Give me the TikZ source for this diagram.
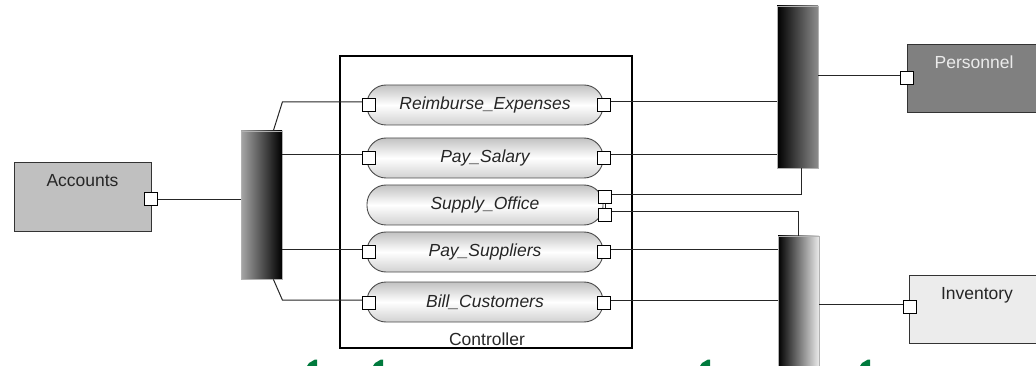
\documentclass[tikz,border=0pt]{standalone}
\usepackage{fontspec}
\setmainfont{Liberation Sans}
\definecolor{mk}{RGB}{0,122,61}
\definecolor{acc}{RGB}{192,192,192}
\definecolor{per}{RGB}{128,128,128}
\definecolor{inv}{RGB}{236,236,236}
\begin{document}
\begin{tikzpicture}[x=1pt,y=-1pt,
  every node/.style={font=\fontsize{17.5}{20}\selectfont, inner sep=0pt, text=black!85},
  port/.style={draw=black, fill=white, line width=1pt, minimum width=13pt, minimum height=13pt, inner sep=0pt},
  link/.style={draw=black!85, line width=1pt},
  capsule/.style={draw=black!70, line width=0.9pt, rounded corners=19pt, minimum width=236pt, minimum height=40pt,
    top color=black!24, bottom color=black!18, middle color=white,
    font=\fontsize{17.5}{20}\selectfont\itshape},
  unit/.style={draw=black!80, line width=1pt},
  bar/.style={draw=black!30, line width=0.8pt, minimum width=41pt},
  greenbit/.style={fill=mk}
]
\useasboundingbox (0,0) rectangle (1036,366);
\clip (0,0) rectangle (1036,366);

% units
\node[unit, fill=acc, minimum width=137pt, minimum height=69pt] (acc) at (82.5,197.5) {};
\node[anchor=base] (accT) at (82.5,187) {Accounts};
\node[unit, fill=per, minimum width=133pt, minimum height=68pt] (per) at (973.5,79) {};
\node[anchor=base, text=black!8] (perT) at (974,69) {Personnel};
\node[unit, fill=inv, minimum width=131pt, minimum height=68pt] (inv) at (974.5,309) {};
\node[anchor=base] (invT) at (977,299) {Inventory};

% bars
\node[bar, minimum height=148pt, left color=black!35, right color=black] (lbar) at (261.5,205) {};
\node[bar, minimum height=162pt, left color=black, right color=black!45] (ubar) at (797.5,87) {};
\node[bar, minimum height=136pt, left color=black, right color=black!8] (dbar) at (798.5,304) {};

% controller
\node[draw=black, line width=2pt, minimum width=292pt, minimum height=292pt] (ctrl) at (486,202) {};
\node[anchor=base] (ctrlT) at (487,345) {Controller};

% capsules
\node[capsule] (re) at (485,105) {Reimburse\_Expenses};
\node[capsule] (ps) at (485,158) {Pay\_Salary};
\node[capsule] (so) at (485,205) {Supply\_Office};
\node[capsule] (pu) at (485,252) {Pay\_Suppliers};
\node[capsule] (bc) at (485,302) {Bill\_Customers};

% ports
\node[port] (accP) at (150.5,199.5) {};
\node[port] (reL) at (369,105) {};
\node[port] (reR) at (603.5,105) {};
\node[port] (psL) at (369,158) {};
\node[port] (psR) at (603.5,158) {};
\node[port] (soT) at (605,197.5) {};
\node[port] (soB) at (605,215) {};
\node[port] (puL) at (369,252) {};
\node[port] (puR) at (603.5,252) {};
\node[port] (bcL) at (369,303) {};
\node[port] (bcR) at (603.5,303) {};
\node[port] (perP) at (907,78) {};
\node[port] (invP) at (910,306.5) {};

% connectors, left side
\draw[link] (accP.east) -- (accP.east -| lbar.west);
\draw[link] ([xshift=-9pt]lbar.north east) -- ([yshift=3pt]reL.west -| lbar.east) -- ([yshift=3pt]reL.west);
\draw[link] ([yshift=3pt]psL.west -| lbar.east) -- ([yshift=3pt]psL.west);
\draw[link] ([yshift=3pt]puL.west -| lbar.east) -- ([yshift=3pt]puL.west);
\draw[link] ([xshift=-9pt]lbar.south east) -- ([yshift=3pt]bcL.west -| lbar.east) -- ([yshift=3pt]bcL.west);

% connectors, right side
\draw[link] ([yshift=3pt]reR.east) -- ([yshift=3pt]reR.east -| ubar.west);
\draw[link] ([yshift=3pt]psR.east) -- ([yshift=3pt]psR.east -| ubar.west);
\draw[link] ([yshift=3pt]soT.east) -| ([xshift=4pt]ubar.south);
\draw[link] (soT.south) -- (soB.north);
\draw[link] ([yshift=3pt]soB.east) -| (dbar.north);
\draw[link] ([yshift=3pt]puR.east) -- ([yshift=3pt]puR.east -| dbar.west);
\draw[link] ([yshift=3pt]bcR.east) -- ([yshift=3pt]bcR.east -| dbar.west);
\draw[link] ([yshift=2pt]perP.west -| ubar.east) -- ([yshift=2pt]perP.west);
\draw[link] ([yshift=2pt]invP.west -| dbar.east) -- ([yshift=2pt]invP.west);

% green fragments at the bottom edge
\foreach \mx in {307,373,700,860}
  \fill[greenbit] (\mx,366) -- (\mx+2,363) -- (\mx+8,359.5) -- (\mx+10,359.5) -- (\mx+10,366) -- cycle;
\end{tikzpicture}
\end{document}
